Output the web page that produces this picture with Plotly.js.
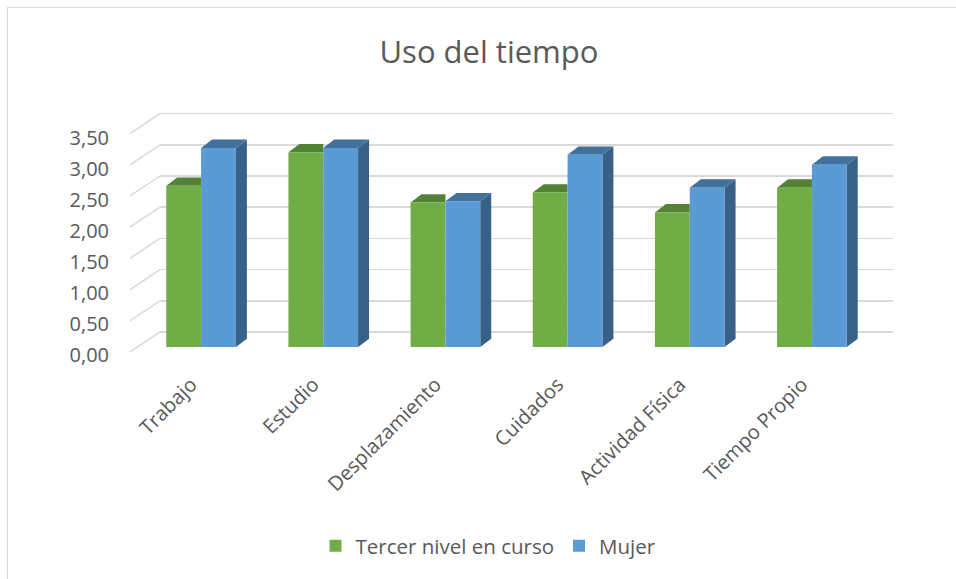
<!DOCTYPE html>
<html>
<head>
<meta charset="utf-8">
<script src="https://cdn.plot.ly/plotly-3.0.1.min.js"></script>
<style>
  html, body { margin: 0; padding: 0; background: #ffffff; }
  #wrap { position: relative; width: 956px; height: 579px; }
  #chart { width: 956px; height: 579px; }
  #frame { position: absolute; left: 7px; top: 7px; width: 960px; height: 590px;
           border: 1.5px solid #d9d9d9; pointer-events: none; box-sizing: border-box; }
</style>
</head>
<body>
<div id="wrap"><div id="chart"></div><div id="frame"></div></div>
<script>
// ---- data ----
const categories = ['Trabajo', 'Estudio', 'Desplazamiento', 'Cuidados', 'Actividad Física', 'Tiempo Propio'];
const tercerNivel = [2.60, 3.14, 2.33, 2.49, 2.17, 2.57];
const mujer = [3.21, 3.21, 2.35, 3.10, 2.57, 2.94];
const seriesNames = ['Tercer nivel en curso', 'Mujer'];
const yTicks = [0, 0.5, 1, 1.5, 2, 2.5, 3, 3.5];

// ---- style ----
const textColor = '#595959';
const gridColor = '#d9d9d9';
const greenFront = '#70ad47', greenTop = '#548235';
const blueFront = '#5b9bd5', blueTop = '#41719c', blueSide = '#376187';
const font = '"Open Sans", "Noto Sans", sans-serif';
const barW = 0.285;        // bar width in category units
const depthX = 0.09;       // 3D depth offset (category units)
const depthY = 0.135;      // 3D depth offset (value units)
const wallX = 0.0398;      // side-wall diagonal offset (paper units)
const wallY = 0.32;        // side-wall diagonal offset (value units)

const idx = categories.map((c, i) => i);

const traces = [
  { type: 'scatter', x: [], y: [], xaxis: 'x', yaxis: 'y', showlegend: false, hoverinfo: 'skip' },
  { type: 'scatter', x: [], y: [], xaxis: 'x2', yaxis: 'y3', showlegend: false, hoverinfo: 'skip' },
  { type: 'bar', name: seriesNames[0], x: idx, y: tercerNivel, width: barW, offset: -barW,
    marker: { color: greenFront, line: { width: 0 } }, xaxis: 'x2', yaxis: 'y2' },
  { type: 'bar', name: seriesNames[1], x: idx, y: mujer, width: barW, offset: 0,
    marker: { color: blueFront, line: { width: 0 } }, xaxis: 'x2', yaxis: 'y2' }
];

const shapes = [];
// side-wall diagonals of the back-wall gridlines
yTicks.forEach(v => {
  shapes.push({ type: 'line', xref: 'paper', yref: 'y', x0: -wallX / 3, y0: v - wallY, x1: wallX * 2 / 3, y1: v,
    line: { color: gridColor, width: 1.5 }, layer: 'below' });
});
// 3D faces for the bars
idx.forEach(i => {
  const vg = tercerNivel[i];
  const gl = i - barW, gr = i;
  shapes.push({ type: 'path', xref: 'x2', yref: 'y2', layer: 'between', line: { width: 0 }, fillcolor: greenTop,
    path: `M${gl},${vg} L${gl + depthX},${vg + depthY} L${gr},${vg + depthY} L${gr},${vg} Z` });
});
idx.forEach(i => {
  const vb = mujer[i];
  const bl = i, br = i + barW;
  shapes.push({ type: 'path', xref: 'x2', yref: 'y2', layer: 'between', line: { width: 0 }, fillcolor: blueSide,
    path: `M${br},0 L${br + depthX},${depthY} L${br + depthX},${vb + depthY} L${br},${vb} Z` });
  shapes.push({ type: 'path', xref: 'x2', yref: 'y2', layer: 'between', line: { width: 0 }, fillcolor: blueTop,
    path: `M${bl},${vb} L${bl + depthX},${vb + depthY} L${br + depthX},${vb + depthY} L${br},${vb} Z` });
});

const layout = {
  width: 956, height: 579,
  margin: { l: 140, r: 63, t: 105, b: 223, pad: 0 },
  paper_bgcolor: 'rgba(0,0,0,0)', plot_bgcolor: 'rgba(0,0,0,0)',
  separators: ',.',
  font: { family: font, color: textColor, size: 20 },
  title: { text: 'Uso del tiempo', x: 0.5115, xanchor: 'center', y: 1 - 52 / 579, yanchor: 'middle',
           xref: 'container', yref: 'container', font: { family: font, size: 31, color: textColor } },
  showlegend: true,
  legend: { orientation: 'h', xref: 'container', yref: 'container', x: 0.511, xanchor: 'center',
            y: 1 - 546 / 579, yanchor: 'middle', font: { family: font, size: 20.5, color: textColor },
            traceorder: 'normal', itemwidth: 30 },
  barmode: 'overlay',
  // back wall (gridlines)
  xaxis: { domain: [20 / 753, 1], range: [-0.5, 5.5], visible: false, fixedrange: true },
  yaxis: { domain: [0, 1], range: [-0.385, 3.638], tickvals: yTicks, showticklabels: false,
           showgrid: true, gridcolor: gridColor, gridwidth: 1.5, zeroline: false, showline: false, ticks: '' },
  // front (bars)
  xaxis2: { domain: [0, 733 / 753], range: [-0.5, 5.5], anchor: 'y2', tickmode: 'array', tickvals: idx,
            ticktext: categories, tickangle: -45, showgrid: false, zeroline: false, showline: false, ticks: '',
            tickfont: { family: font, size: 20, color: textColor }, ticklabelstandoff: 12, ticklabelshift: -10 },
  yaxis2: { domain: [0, 1], range: [-0.145, 3.903], anchor: 'x2', visible: false },
  // value labels
  yaxis3: { overlaying: 'y2', anchor: 'x2', side: 'left', range: [-0.016, 4.032], tickvals: yTicks,
            tickformat: '.2f', showgrid: false, zeroline: false, showline: false, ticks: '',
            ticklabelstandoff: 30, tickfont: { family: font, size: 20, color: textColor } },
  shapes: shapes
};

Plotly.newPlot('chart', traces, layout, { displayModeBar: false, staticPlot: true });
</script>
</body>
</html>
